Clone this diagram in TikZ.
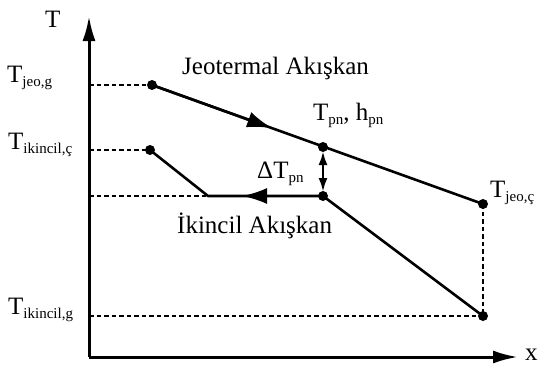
\documentclass[tikz,border=0pt]{standalone}
\usepackage{fontspec}
\setmainfont{Liberation Serif}
\usetikzlibrary{arrows.meta,calc}
\newcommand\lowsub[1]{\raisebox{-4pt}{\fontsize{15pt}{15pt}\selectfont #1}}
\begin{document}
\begin{tikzpicture}[x=1pt,y=-1pt,
  axis/.style={line width=3pt,-{Latex[length=25pt,width=13pt]}},
  curve/.style={line width=2.6pt},
  guide/.style={line width=2.3pt,dash pattern=on 4.5pt off 3pt},
  flowtip/.style={line width=2.6pt,-{Latex[length=25pt,width=16pt]}},
  gap/.style={line width=2.6pt,{Latex[length=14pt,width=9pt]}-{Latex[length=14pt,width=9pt]},shorten <=4pt,shorten >=4pt},
  dot/.style={fill,radius=5pt},
  lbl/.style={inner sep=0pt,anchor=base west,font=\fontsize{25pt}{25pt}\selectfont}]
\useasboundingbox (0,0) rectangle (538,365);
% axes
\coordinate (O) at (89,357);
\coordinate (Ytop) at (89,16);
\coordinate (Xend) at (518,357);
\draw[axis] (O) -- (Ytop);
\draw[axis] (O) -- (Xend);
% state points
\coordinate (A) at (152,85);
\coordinate (B) at (150,150);
\coordinate (C) at (208,196);
\coordinate (P1) at (323,147);
\coordinate (P2) at (323,196);
\coordinate (D) at (483,204);
\coordinate (E) at (483,316);
% projections onto the T axis
\draw[guide] (89,85) -- (A);
\draw[guide] (89,150) -- (B);
\draw[guide] (89,196) -- (C);
\draw[guide] (89,316) -- (E);
\draw[guide] (D) -- (E);
% geothermal fluid line
\draw[curve] (A) -- (D);
\draw[flowtip] (A) -- ($(A)!0.363!(D)$);
% secondary fluid line
\draw[curve,line join=round] (E) -- (P2) -- (C) -- (B);
\draw[flowtip] (P2) -- ($(P2)!0.704!(C)$);
% pinch temperature difference
\draw[gap] (P1) -- (P2);
% markers
\fill[dot] (A) circle; \fill[dot] (B) circle;
\fill[dot] (P1) circle; \fill[dot] (P2) circle;
\fill[dot] (D) circle; \fill[dot] (E) circle;
% labels
\node[lbl] (lT) at (45,27) {T};
\node[lbl] (lx) at (525,360) {x};
\node[lbl] (lTjg) at (7,82) {T\lowsub{jeo,g}};
\node[lbl] (lTic) at (8,149) {T\lowsub{ikincil,ç}};
\node[lbl] (lTig) at (8,314) {T\lowsub{ikincil,g}};
\node[lbl] (lgeo) at (182,74) {Jeotermal Akışkan};
\node[lbl] (lpn) at (313,120) {T\lowsub{pn}, h\lowsub{pn}};
\node[lbl] (ldT) at (257,178) {ΔT\lowsub{pn}};
\node[lbl] (lsec) at (177,233) {İkincil Akışkan};
\node[lbl] (lTjc) at (490,197) {T\lowsub{jeo,ç}};
\end{tikzpicture}
\end{document}
